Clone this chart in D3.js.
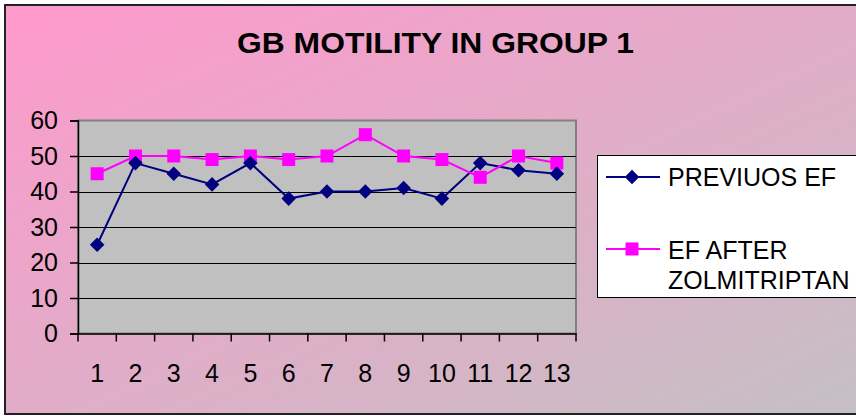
<!DOCTYPE html>
<html>
<head>
<meta charset="utf-8">
<script src="https://cdn.jsdelivr.net/npm/d3@7"></script>
<style>
  body { margin: 0; background: #fff; }
  text { font-family: "Liberation Sans", Arial, sans-serif; fill: #000; }
</style>
</head>
<body>
<div id="chart"></div>
<script>
const categories = ["1", "2", "3", "4", "5", "6", "7", "8", "9", "10", "11", "12", "13"];
const previousEF = [25, 48, 45, 42, 48, 38, 40, 40, 41, 38, 48, 46, 45];
const efAfter = [45, 50, 50, 49, 50, 49, 50, 56, 50, 49, 44, 50, 48];
const yTicks = [0, 10, 20, 30, 40, 50, 60];
const seriesNames = ["PREVIUOS EF", ["EF AFTER", "ZOLMITRIPTAN"]];

const W = 856, H = 416;
const plot = { left: 78, top: 120.5, right: 576, bottom: 333.5 };

const svg = d3.select("#chart")
    .append("svg")
    .attr("width", W)
    .attr("height", H);

// background gradient pink -> grey
const defs = svg.append("defs");
const grad = defs.append("linearGradient")
    .attr("id", "bg")
    .attr("x1", "0%").attr("y1", "0%")
    .attr("x2", "100%").attr("y2", "100%");
grad.append("stop").attr("offset", "0%").attr("stop-color", "#ff99cc");
grad.append("stop").attr("offset", "100%").attr("stop-color", "#c4c0c4");

svg.append("rect")
    .attr("x", 5).attr("y", 5)
    .attr("width", W + 10).attr("height", 409)
    .attr("fill", "url(#bg)")
    .attr("stroke", "#222")
    .attr("stroke-width", 2);

// title
svg.append("text")
    .attr("x", 435.5)
    .attr("y", 53)
    .attr("text-anchor", "middle")
    .style("font-size", "30px")
    .style("font-weight", "bold")
    .attr("textLength", 397)
    .attr("lengthAdjust", "spacingAndGlyphs")
    .text("GB MOTILITY IN GROUP 1");

const x = d3.scaleBand()
    .domain(categories)
    .range([plot.left, plot.right]);

const y = d3.scaleLinear()
    .domain([0, 60])
    .range([plot.bottom, plot.top]);

// plot area
svg.append("rect")
    .attr("x", plot.left)
    .attr("y", plot.top)
    .attr("width", plot.right - plot.left)
    .attr("height", plot.bottom - plot.top)
    .attr("fill", "#c0c0c0")
    .attr("stroke", "#808080")
    .attr("stroke-width", 2);

// gridlines
svg.append("g")
    .selectAll("line")
    .data(yTicks.filter(d => d > 0 && d < 60))
    .enter()
    .append("line")
    .attr("x1", plot.left)
    .attr("x2", plot.right)
    .attr("y1", d => Math.round(y(d)) + 0.5)
    .attr("y2", d => Math.round(y(d)) + 0.5)
    .attr("stroke", "#000")
    .attr("stroke-width", 1.2);

// y axis
const yAxis = svg.append("g")
    .attr("transform", `translate(${plot.left},0)`)
    .call(d3.axisLeft(y).tickValues(yTicks).tickSize(8).tickPadding(12));
yAxis.select(".domain").attr("stroke", "#000").attr("stroke-width", 1.5);
yAxis.selectAll(".tick line").attr("stroke", "#000").attr("stroke-width", 1.5);
yAxis.selectAll(".tick text")
    .style("font-size", "25px")
    .style("font-family", "'Liberation Sans', Arial, sans-serif")
    .attr("fill", "#000");

// x axis
const xAxis = svg.append("g")
    .attr("transform", `translate(0,${plot.bottom})`)
    .call(d3.axisBottom(x).tickSize(0).tickPadding(31));
xAxis.select(".domain").attr("stroke", "#000").attr("stroke-width", 1.5);
xAxis.selectAll(".tick text")
    .style("font-size", "25px")
    .style("font-family", "'Liberation Sans', Arial, sans-serif")
    .attr("fill", "#000");

// x tick marks at category boundaries
svg.append("g")
    .selectAll("line")
    .data(categories.concat(["end"]))
    .enter()
    .append("line")
    .attr("x1", (d, i) => i < categories.length ? x(d) : x(categories[categories.length - 1]) + x.bandwidth())
    .attr("x2", (d, i) => i < categories.length ? x(d) : x(categories[categories.length - 1]) + x.bandwidth())
    .attr("y1", plot.bottom)
    .attr("y2", plot.bottom + 8)
    .attr("stroke", "#000")
    .attr("stroke-width", 1.5);

const cx = (d, i) => x(categories[i]) + x.bandwidth() / 2;

const line = d3.line()
    .x((d, i) => cx(d, i))
    .y(d => y(d));

// series 1: previous EF
svg.append("path")
    .datum(previousEF)
    .attr("d", line)
    .attr("fill", "none")
    .attr("stroke", "#000080")
    .attr("stroke-width", 2);

// series 2: EF after zolmitriptan
svg.append("path")
    .datum(efAfter)
    .attr("d", line)
    .attr("fill", "none")
    .attr("stroke", "#ff00ff")
    .attr("stroke-width", 2);

const diamond = d3.symbol().type(d3.symbolDiamond2).size(135);

svg.append("g")
    .selectAll("rect")
    .data(efAfter)
    .enter()
    .append("rect")
    .attr("x", (d, i) => cx(d, i) - 6.5)
    .attr("y", d => y(d) - 6.5)
    .attr("width", 13)
    .attr("height", 13)
    .attr("fill", "#ff00ff");

svg.append("g")
    .selectAll("path")
    .data(previousEF)
    .enter()
    .append("path")
    .attr("d", diamond)
    .attr("transform", (d, i) => `translate(${cx(d, i)},${y(d)})`)
    .attr("fill", "#000080");

// legend
const legend = svg.append("g");
legend.append("rect")
    .attr("x", 597.5)
    .attr("y", 155.5)
    .attr("width", 270)
    .attr("height", 142)
    .attr("fill", "#fff")
    .attr("stroke", "#000")
    .attr("stroke-width", 1);

legend.append("line")
    .attr("x1", 606).attr("x2", 660)
    .attr("y1", 177).attr("y2", 177)
    .attr("stroke", "#000080").attr("stroke-width", 2);
legend.append("path")
    .attr("d", diamond)
    .attr("transform", "translate(632,177)")
    .attr("fill", "#000080");
legend.append("text")
    .attr("x", 668).attr("y", 186)
    .style("font-size", "25px")
    .text(seriesNames[0]);

legend.append("line")
    .attr("x1", 606).attr("x2", 660)
    .attr("y1", 249).attr("y2", 249)
    .attr("stroke", "#ff00ff").attr("stroke-width", 2);
legend.append("rect")
    .attr("x", 625.5).attr("y", 242.5)
    .attr("width", 13).attr("height", 13)
    .attr("fill", "#ff00ff");
legend.append("text")
    .attr("x", 668).attr("y", 259)
    .style("font-size", "25px")
    .text(seriesNames[1][0]);
legend.append("text")
    .attr("x", 668).attr("y", 289)
    .style("font-size", "25px")
    .text(seriesNames[1][1]);
</script>
</body>
</html>
